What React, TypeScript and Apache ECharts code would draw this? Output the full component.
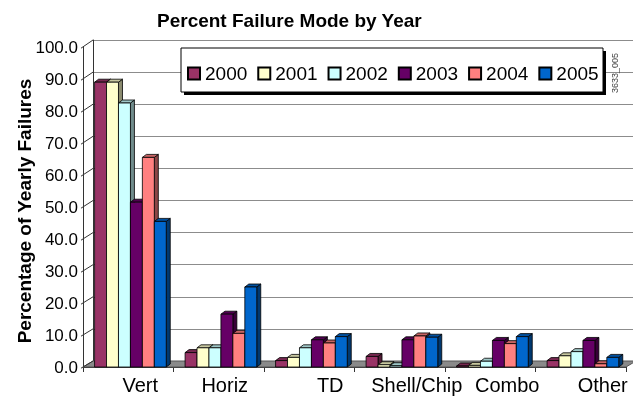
import { useEffect, useRef } from 'react';
import * as echarts from 'echarts';

const categories = ['Vert', 'Horiz', 'TD', 'Shell/Chip', 'Combo', 'Other'];
const years = ['2000', '2001', '2002', '2003', '2004', '2005'];
const values2000 = [89, 4.5, 2, 3.3, 0.3, 2];
const values2001 = [89, 6, 3, 0.7, 0.5, 3.5];
const values2002 = [82.5, 6, 6, 0.4, 1.8, 4.8];
const values2003 = [51.5, 16.5, 8.5, 8.5, 8.3, 8.3];
const values2004 = [65.5, 10.5, 7.5, 9.7, 7.3, 1];
const values2005 = [45.5, 25, 9.5, 9.3, 9.5, 3];
const seriesValues = [values2000, values2001, values2002, values2003, values2004, values2005];
const yTickValues = [0, 10, 20, 30, 40, 50, 60, 70, 80, 90, 100];

const colors = ['#993366', '#FFFFCC', '#CCFFFF', '#660066', '#FF8080', '#0066CC'];
const labelShift = [12, 6, 21, 17, 17, 22];

const FONT = 'Arial, "Liberation Sans", Helvetica, sans-serif';
const FRONT = { left: 83, right: 7, top: 47, bottom: 29 };
const BACK = { left: 93, right: 0, top: 40, bottom: 35 };

function shade(hex: string, f: number): string {
  const n = parseInt(hex.slice(1), 16);
  const r = Math.round(((n >> 16) & 255) * f);
  const g = Math.round(((n >> 8) & 255) * f);
  const b = Math.round((n & 255) * f);
  return `rgb(${r},${g},${b})`;
}

const makeRender = (si: number) => (_params: any, api: any) => {
  const ci = api.value(0);
  const v = api.value(1);
  const band = api.size([1, 0])[0];
  const bw = band * 0.132;
  const base = api.coord([ci, 0]);
  const yBase = base[1];
  const yTop = api.coord([ci, v])[1];
  const x0 = base[0] - band / 2 + band * 0.128 + si * bw;
  const dx = 4;
  const dy = 3;
  const c = colors[si];
  const st = { stroke: '#000', lineWidth: 0.8 };
  return {
    type: 'group',
    children: [
      {
        type: 'polygon',
        shape: { points: [[x0 + bw, yTop], [x0 + bw + dx, yTop - dy], [x0 + bw + dx, yBase - dy], [x0 + bw, yBase]] },
        style: { fill: shade(c, 0.55), ...st },
      },
      {
        type: 'polygon',
        shape: { points: [[x0, yTop], [x0 + dx, yTop - dy], [x0 + bw + dx, yTop - dy], [x0 + bw, yTop]] },
        style: { fill: shade(c, 0.78), ...st },
      },
      {
        type: 'rect',
        shape: { x: x0, y: yTop, width: bw, height: yBase - yTop },
        style: { fill: c, ...st },
      },
    ],
  };
};

export default function App() {
  const ref = useRef<HTMLDivElement>(null);
  useEffect(() => {
    if (!ref.current) return;
    const chart = echarts.init(ref.current, undefined, { renderer: 'svg' });
    chart.setOption({
      animation: false,
      textStyle: { fontFamily: FONT },
      title: {
        text: 'Percent Failure Mode by Year',
        left: 157,
        top: 11,
        padding: 0,
        textStyle: { fontFamily: FONT, fontSize: 19, fontWeight: 'bold', color: '#000' },
      },
      legend: {
        data: years,
        left: 187,
        top: 64,
        padding: 0,
        icon: 'rect',
        itemWidth: 12,
        itemHeight: 12,
        itemGap: 10,
        z: 5,
        textStyle: { fontFamily: FONT, fontSize: 19, color: '#000' },
      },
      grid: [
        { left: FRONT.left, right: FRONT.right, top: FRONT.top, bottom: FRONT.bottom },
        { left: BACK.left, right: BACK.right, top: BACK.top, bottom: BACK.bottom },
      ],
      xAxis: [
        {
          type: 'category',
          gridIndex: 0,
          data: categories.map((c, i) => ({ value: c, textStyle: { padding: [0, 0, 0, labelShift[i] * 2] } })),
          axisLine: { show: true, lineStyle: { color: '#333', width: 1 } },
          axisTick: { show: true, length: 5, lineStyle: { color: '#333' } },
          axisLabel: { fontFamily: FONT, fontSize: 20, color: '#000', margin: 8, interval: 0 },
          splitLine: { show: false },
        },
        {
          type: 'category',
          gridIndex: 1,
          data: categories,
          show: false,
        },
      ],
      yAxis: [
        {
          type: 'value',
          gridIndex: 0,
          min: 0,
          max: 100,
          interval: 10,
          axisLine: { show: true, lineStyle: { color: '#333', width: 1 } },
          axisTick: { show: false },
          splitLine: { show: false },
          axisLabel: {
            fontFamily: FONT,
            fontSize: 17,
            color: '#000',
            margin: 5,
            formatter: (v: number) => v.toFixed(1),
          },
        },
        {
          type: 'value',
          gridIndex: 1,
          min: 0,
          max: 100,
          interval: 10,
          axisLine: { show: true, lineStyle: { color: '#333', width: 1 } },
          axisTick: { show: false },
          axisLabel: { show: false },
          splitLine: { show: true, lineStyle: { color: '#8c8c8c', width: 1 } },
        },
      ],
      series: seriesValues.map((vals, si) => ({
        type: 'custom',
        name: years[si],
        xAxisIndex: 0,
        yAxisIndex: 0,
        z: 3,
        itemStyle: { color: colors[si], borderColor: '#000', borderWidth: 1 },
        renderItem: makeRender(si),
        encode: { x: 0, y: 1 },
        data: vals.map((v, i) => [i, v]),
      })),
    });

    const yf0 = chart.convertToPixel({ yAxisIndex: 0 }, 0) as number;
    const yb0 = chart.convertToPixel({ yAxisIndex: 1 }, 0) as number;
    const diag = yTickValues.map((v) => {
      const yf = chart.convertToPixel({ yAxisIndex: 0 }, v) as number;
      const yb = chart.convertToPixel({ yAxisIndex: 1 }, v) as number;
      return {
        type: 'line',
        z: 1,
        shape: { x1: FRONT.left - 2, y1: yf + 1.2, x2: BACK.left, y2: yb },
        style: { stroke: '#333', lineWidth: 1 },
      };
    });
    chart.setOption({
      graphic: [
        {
          type: 'polygon',
          z: 1,
          shape: {
            points: [
              [FRONT.left, yf0],
              [633 - FRONT.right, yf0],
              [633 - FRONT.right + 10, yb0],
              [BACK.left, yb0],
            ],
          },
          style: { fill: '#8a8a8a', stroke: '#555', lineWidth: 1 },
        },
        ...diag,
        {
          type: 'rect',
          z: 4,
          shape: { x: 184, y: 51, width: 422, height: 44 },
          style: { fill: '#000' },
        },
        {
          type: 'rect',
          z: 4,
          shape: { x: 181, y: 48, width: 422, height: 44 },
          style: { fill: '#fff', stroke: '#000', lineWidth: 1 },
        },
        {
          type: 'text',
          z: 5,
          x: 24,
          y: 211,
          rotation: Math.PI / 2,
          style: {
            text: 'Percentage of Yearly Failures',
            font: `bold 19px ${FONT}`,
            fill: '#000',
            align: 'center',
            verticalAlign: 'middle',
          },
        },
        {
          type: 'text',
          z: 5,
          x: 615,
          y: 73,
          rotation: Math.PI / 2,
          style: {
            text: '3633_005',
            font: `9px ${FONT}`,
            fill: '#444',
            align: 'center',
            verticalAlign: 'middle',
          },
        },
      ],
    });
    return () => chart.dispose();
  }, []);
  return <div ref={ref} style={{ position: 'fixed', left: 0, top: 0, width: 633, height: 396 }} />;
}
